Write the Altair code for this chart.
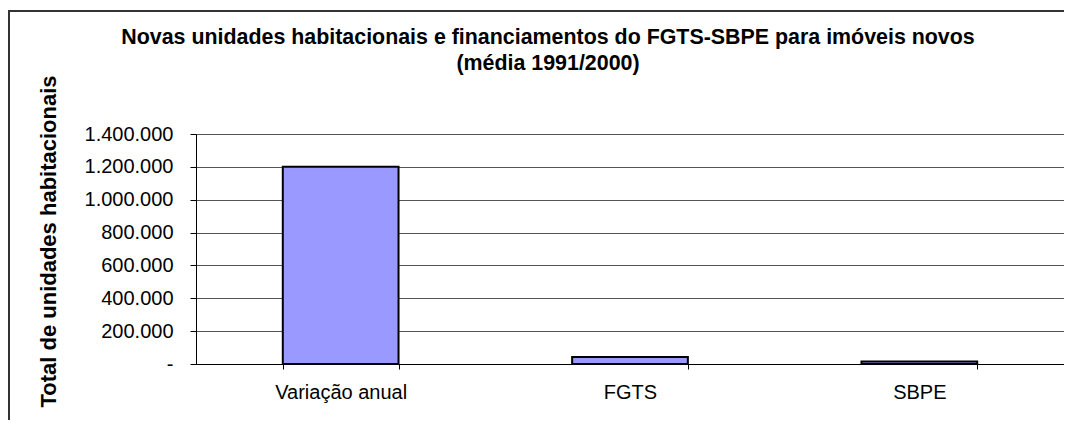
import altair as alt
import pandas as pd

categories = ["Variação anual", "FGTS", "SBPE"]
values = [1200000, 42000, 15000]
y_ticks = [0, 200000, 400000, 600000, 800000, 1000000, 1200000, 1400000]
title_lines = ["Novas unidades habitacionais e financiamentos do FGTS-SBPE para imóveis novos",
               "(média 1991/2000)"]

df = pd.DataFrame({"cat": categories, "val": values})

FONT = "Liberation Sans"

bars = alt.Chart(df).mark_bar(
    color="#9999FF", stroke="#000000", strokeWidth=2
).encode(
    x=alt.X(
        "cat:N",
        sort=categories,
        scale=alt.Scale(paddingInner=0.6, paddingOuter=0.3),
        axis=alt.Axis(
            title=None, labelAngle=0, labelFontSize=20, labelColor="#000000",
            labelFont=FONT, tickBand="extent", tickSize=5, tickColor="#000000",
            domainColor="#000000", labelPadding=13, grid=False,
        ),
    ),
    y=alt.Y(
        "val:Q",
        scale=alt.Scale(domain=[0, 1400000], nice=False),
        axis=alt.Axis(
            values=y_ticks,
            labelExpr="datum.value == 0 ? '-' : replace(format(datum.value, ','), regexp(',', 'g'), '.')",
            labelFontSize=20, labelColor="#000000", labelFont=FONT,
            tickSize=6, tickColor="#000000", domainColor="#000000",
            labelPadding=17, grid=True, gridColor="#555555", gridWidth=1,
            title="Total de unidades habitacionais", titleFont=FONT,
            titleFontSize=22, titleFontWeight="bold", titleColor="#000000",
            titleAngle=270, titleX=-148, titleY=107, titleAlign="center",
            titleBaseline="middle",
        ),
    ),
)

frame_df = pd.DataFrame({"a": [0]})
top_line = alt.Chart(frame_df).mark_rule(color="#333333", strokeWidth=2).encode(
    x=alt.value(-188), x2=alt.value(868), y=alt.value(-123)
)
left_line = alt.Chart(frame_df).mark_rule(color="#333333", strokeWidth=2).encode(
    x=alt.value(-187), y=alt.value(-124), y2=alt.value(300)
)

title_df = pd.DataFrame({"line": title_lines, "row": [0, 1]})
title_text = alt.Chart(title_df).mark_text(
    font=FONT, fontSize=21.4, fontWeight="bold", color="#000000",
    align="center", baseline="alphabetic",
).encode(
    x=alt.value(352),
    y=alt.Y("row:O", scale=alt.Scale(range=[-90, -64], padding=0), axis=None),
    text="line:N",
)

chart = alt.layer(bars, top_line, left_line, title_text).properties(
    width=868,
    height=230,
    autosize=alt.AutoSizeParams(type="none"),
    padding={"left": 188, "top": 126, "right": 0, "bottom": 56},
).resolve_scale(y="independent").configure_view(stroke=None)

chart.save("out.html", embed_options={"renderer": "svg", "actions": False})
